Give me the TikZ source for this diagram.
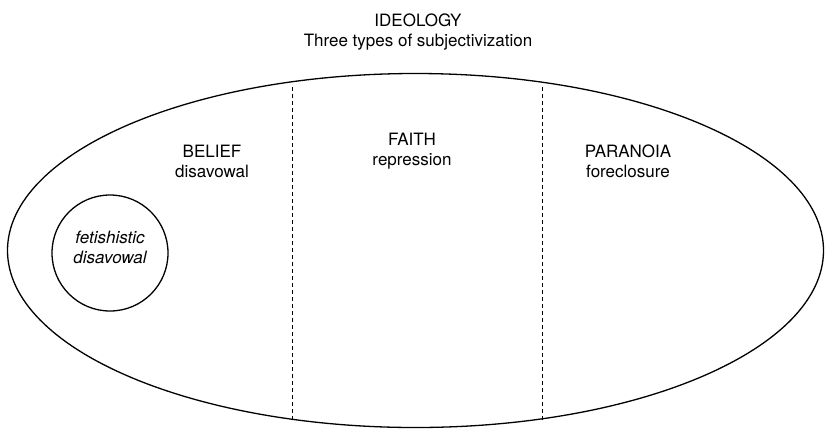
\documentclass[tikz,border=0pt]{standalone}
\usepackage{fontspec}
\setmainfont{TeX Gyre Heros}
\usetikzlibrary{shapes.geometric}
\begin{document}
\begin{tikzpicture}[x=1pt,y=-1pt,
  lbl/.style={align=center,font=\fontsize{17}{20}\selectfont,inner sep=0pt},
  divider/.style={dash pattern=on 4pt off 3pt,line width=1pt},
  outline/.style={line width=1.3pt}]
\useasboundingbox (0,0) rectangle (826,429);
\node[ellipse,draw,outline,minimum width=816,minimum height=354,inner sep=0pt] (ideo) at (415.5,250.5) {};
\node[circle,draw,outline,minimum size=116,inner sep=0pt] (fet) at (110,253) {};
\node[lbl,font=\itshape\fontsize{17}{20}\selectfont] (fettxt) at (110,247) {fetishistic\\disavowal};
\node[lbl] (title) at (418,32) {IDEOLOGY\\Three types of subjectivization};
\node[lbl] (belief) at (212,161) {BELIEF\\disavowal};
\node[lbl] (faith) at (412,151) {FAITH\\repression};
\node[lbl] (para) at (628,161) {PARANOIA\\foreclosure};
\coordinate (d1t) at (292,87);
\coordinate (d1b) at (292,421);
\coordinate (d2t) at (542,87);
\coordinate (d2b) at (542,421);
\draw[divider] (d1t) -- (d1b);
\draw[divider] (d2t) -- (d2b);
\end{tikzpicture}
\end{document}
